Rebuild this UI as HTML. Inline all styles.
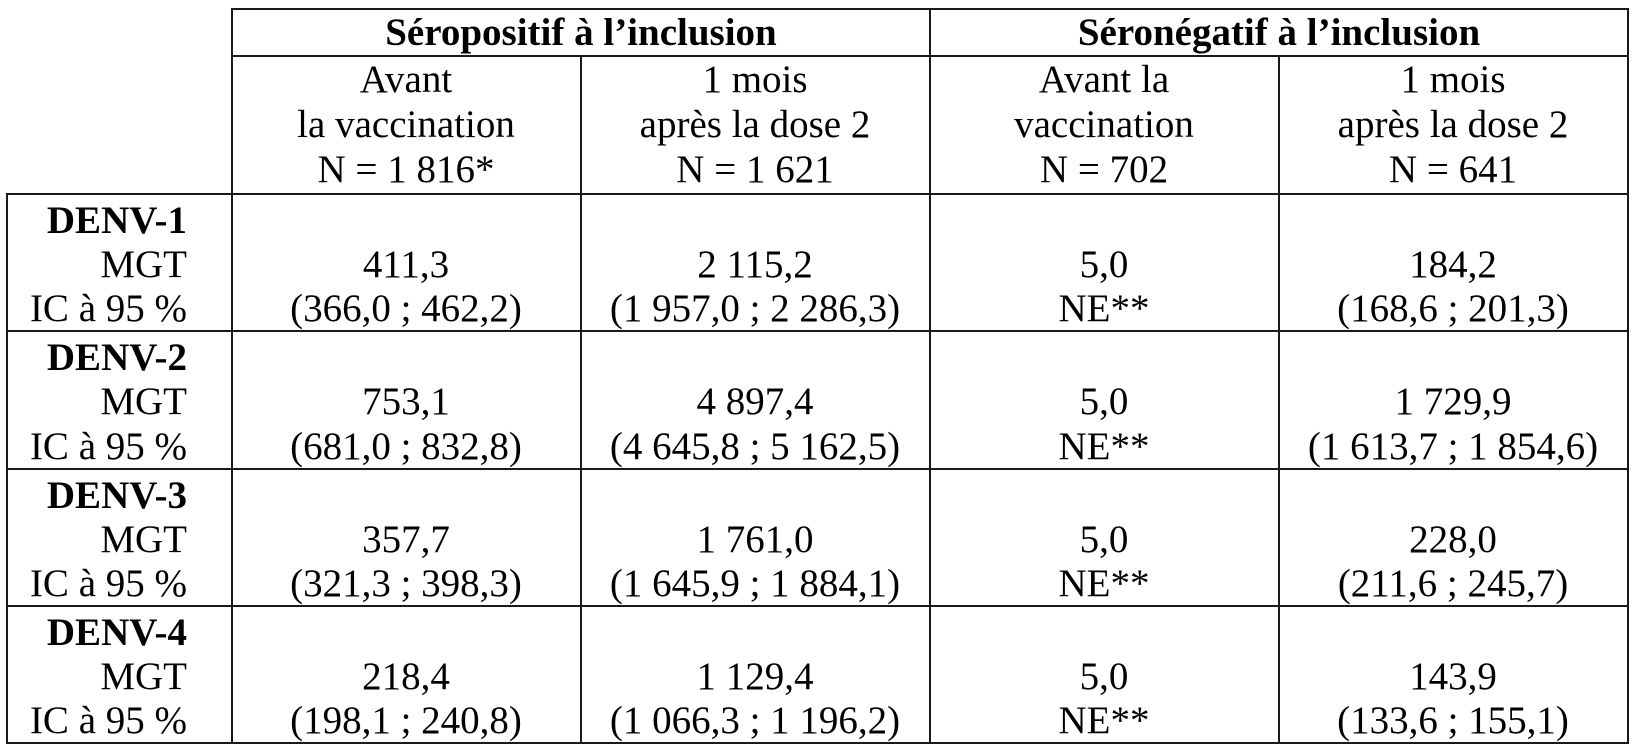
<!DOCTYPE html>
<html>
<head>
<meta charset="utf-8">
<style>
  html, body { margin: 0; padding: 0; background: #fff; }
  svg { display: block; }
  text { font-family: "Liberation Serif", "Times New Roman", serif; font-size: 39px; fill: #000; }
  .b { font-weight: bold; }
</style>
</head>
<body>
<svg width="1636" height="750" viewBox="0 0 1636 750" xmlns="http://www.w3.org/2000/svg">
  <g stroke="#1a1a1a" stroke-width="2" fill="none">
    <!-- horizontals -->
    <line x1="231" y1="9" x2="1629" y2="9"/>
    <line x1="231" y1="56" x2="1629" y2="56"/>
    <line x1="6" y1="194" x2="1629" y2="194"/>
    <line x1="6" y1="331" x2="1629" y2="331"/>
    <line x1="6" y1="469" x2="1629" y2="469"/>
    <line x1="6" y1="606" x2="1629" y2="606"/>
    <line x1="6" y1="743" x2="1629" y2="743"/>
    <!-- verticals -->
    <line x1="7" y1="193" x2="7" y2="744"/>
    <line x1="232" y1="8" x2="232" y2="744"/>
    <line x1="581" y1="56" x2="581" y2="744"/>
    <line x1="930" y1="8" x2="930" y2="744"/>
    <line x1="1279" y1="56" x2="1279" y2="744"/>
    <line x1="1628" y1="8" x2="1628" y2="744"/>
  </g>

  <!-- group headers -->
  <text class="b" x="581" y="45" text-anchor="middle">Séropositif à l’inclusion</text>
  <text class="b" x="1279" y="45" text-anchor="middle">Séronégatif à l’inclusion</text>

  <!-- sub headers -->
  <g text-anchor="middle">
    <text x="406" y="92">Avant</text>
    <text x="406" y="137">la vaccination</text>
    <text x="406" y="182">N = 1 816*</text>

    <text x="755" y="92">1 mois</text>
    <text x="755" y="137">après la dose 2</text>
    <text x="755" y="182">N = 1 621</text>

    <text x="1104" y="92">Avant la</text>
    <text x="1104" y="137">vaccination</text>
    <text x="1104" y="182">N = 702</text>

    <text x="1453" y="92">1 mois</text>
    <text x="1453" y="137">après la dose 2</text>
    <text x="1453" y="182">N = 641</text>
  </g>

  <!-- row labels -->
  <g text-anchor="end">
    <text class="b" x="187" y="233">DENV-1</text>
    <text x="187" y="277">MGT</text>
    <text x="187" y="321">IC à 95 %</text>

    <text class="b" x="187" y="370">DENV-2</text>
    <text x="187" y="414">MGT</text>
    <text x="187" y="459">IC à 95 %</text>

    <text class="b" x="187" y="508">DENV-3</text>
    <text x="187" y="552">MGT</text>
    <text x="187" y="596">IC à 95 %</text>

    <text class="b" x="187" y="645">DENV-4</text>
    <text x="187" y="689">MGT</text>
    <text x="187" y="733">IC à 95 %</text>
  </g>

  <!-- data -->
  <g text-anchor="middle">
    <!-- DENV-1 -->
    <text x="406" y="277">411,3</text>
    <text x="406" y="321">(366,0 ; 462,2)</text>
    <text x="755" y="277">2 115,2</text>
    <text x="755" y="321">(1 957,0 ; 2 286,3)</text>
    <text x="1104" y="277">5,0</text>
    <text x="1104" y="321">NE**</text>
    <text x="1453" y="277">184,2</text>
    <text x="1453" y="321">(168,6 ; 201,3)</text>

    <!-- DENV-2 -->
    <text x="406" y="414">753,1</text>
    <text x="406" y="459">(681,0 ; 832,8)</text>
    <text x="755" y="414">4 897,4</text>
    <text x="755" y="459">(4 645,8 ; 5 162,5)</text>
    <text x="1104" y="414">5,0</text>
    <text x="1104" y="459">NE**</text>
    <text x="1453" y="414">1 729,9</text>
    <text x="1453" y="459">(1 613,7 ; 1 854,6)</text>

    <!-- DENV-3 -->
    <text x="406" y="552">357,7</text>
    <text x="406" y="596">(321,3 ; 398,3)</text>
    <text x="755" y="552">1 761,0</text>
    <text x="755" y="596">(1 645,9 ; 1 884,1)</text>
    <text x="1104" y="552">5,0</text>
    <text x="1104" y="596">NE**</text>
    <text x="1453" y="552">228,0</text>
    <text x="1453" y="596">(211,6 ; 245,7)</text>

    <!-- DENV-4 -->
    <text x="406" y="689">218,4</text>
    <text x="406" y="733">(198,1 ; 240,8)</text>
    <text x="755" y="689">1 129,4</text>
    <text x="755" y="733">(1 066,3 ; 1 196,2)</text>
    <text x="1104" y="689">5,0</text>
    <text x="1104" y="733">NE**</text>
    <text x="1453" y="689">143,9</text>
    <text x="1453" y="733">(133,6 ; 155,1)</text>
  </g>
</svg>
</body>
</html>
